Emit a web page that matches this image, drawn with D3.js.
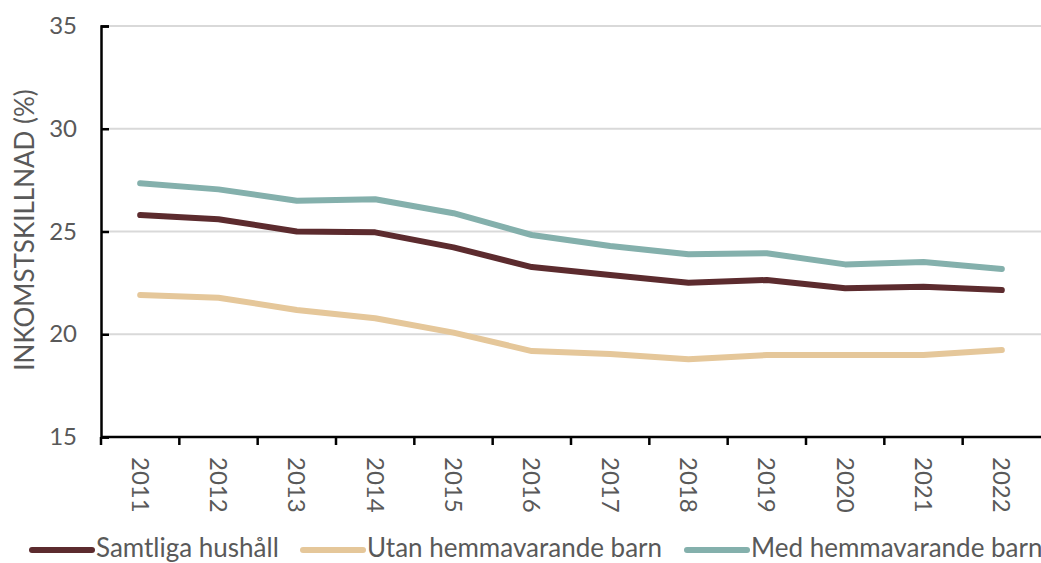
<!DOCTYPE html>
<html>
<head>
<meta charset="utf-8">
<script src="https://cdn.jsdelivr.net/npm/d3@7.9.0/dist/d3.min.js"></script>
<style>
  body { margin: 0; background: #fff; }
  svg { font-family: Lato, "Open Sans", sans-serif; }
</style>
</head>
<body>
<svg id="chart" width="1041" height="563"></svg>
<script>
// data
const years = ['2011','2012','2013','2014','2015','2016','2017','2018','2019','2020','2021','2022'];
const samtliga = [25.8, 25.6, 25.0, 24.96, 24.23, 23.27, 22.88, 22.51, 22.64, 22.24, 22.31, 22.15];
const utanBarn = [21.91, 21.78, 21.18, 20.78, 20.08, 19.18, 19.04, 18.78, 18.99, 18.99, 18.99, 19.23];
const medBarn = [27.35, 27.05, 26.5, 26.57, 25.89, 24.83, 24.29, 23.89, 23.94, 23.4, 23.52, 23.18];
const yTicks = [15, 20, 25, 30, 35];

const series = [
  { name: 'Samtliga hushåll', values: samtliga, color: '#5c2b2e' },
  { name: 'Utan hemmavarande barn', values: utanBarn, color: '#e5c79a' },
  { name: 'Med hemmavarande barn', values: medBarn, color: '#84b0ac' }
];

const svg = d3.select('#chart');
const mLeft = 101, mRight = 1041, mTop = 26, mBottom = 437;

const x = d3.scaleBand().domain(years).range([mLeft, mRight]);
const y = d3.scaleLinear().domain([15, 35]).range([mBottom, mTop]);

// gridlines
svg.append('g')
  .selectAll('line')
  .data(yTicks.filter(d => d > 15))
  .join('line')
  .attr('x1', mLeft).attr('x2', mRight)
  .attr('y1', d => y(d)).attr('y2', d => y(d))
  .attr('stroke', '#d9d9d9').attr('stroke-width', 2);

// y axis
const yAxis = svg.append('g')
  .attr('transform', `translate(${mLeft},0)`)
  .call(d3.axisRight(y).tickValues(yTicks).tickSize(8).tickFormat(d3.format('d')));
yAxis.select('.domain').attr('stroke', '#000').attr('stroke-width', 2.5);
yAxis.selectAll('.tick line').attr('stroke', '#000').attr('stroke-width', 2.5);
yAxis.selectAll('.tick text')
  .attr('x', -24).attr('text-anchor', 'end')
  .attr('fill', '#595959').attr('font-size', 24)
  .attr('font-family', 'Lato');

// x axis: ticks between bands
const xAxis = svg.append('g').attr('transform', `translate(0,${mBottom})`);
xAxis.append('line').attr('x1', mLeft).attr('x2', mRight)
  .attr('stroke', '#000').attr('stroke-width', 2.5);
xAxis.selectAll('.tk')
  .data(years)
  .join('line')
  .attr('class', 'tk')
  .attr('x1', d => x(d)).attr('x2', d => x(d))
  .attr('y1', 0).attr('y2', 8)
  .attr('stroke', '#000').attr('stroke-width', 2.5);
xAxis.selectAll('text')
  .data(years)
  .join('text')
  .attr('transform', d => `translate(${x(d) + x.bandwidth() / 2},20) rotate(90)`)
  .attr('dy', '0.35em')
  .attr('fill', '#595959').attr('font-size', 24)
  .text(d => d);

// y title
svg.append('text')
  .attr('transform', `translate(25,230) rotate(-90)`)
  .attr('text-anchor', 'middle').attr('dy', '0.35em')
  .attr('fill', '#595959').attr('font-size', 26)
  .text('INKOMSTSKILLNAD (%)');

// lines
const line = d3.line()
  .x((d, i) => x(years[i]) + x.bandwidth() / 2)
  .y(d => y(d));

svg.append('g')
  .selectAll('path')
  .data(series)
  .join('path')
  .attr('d', d => line(d.values))
  .attr('fill', 'none')
  .attr('stroke', d => d.color)
  .attr('stroke-width', 6)
  .attr('stroke-linecap', 'round')
  .attr('stroke-linejoin', 'round');

// legend
const legendX = [32, 303, 687];
const legend = svg.append('g').attr('transform', 'translate(0,550)');
series.forEach((s, i) => {
  const g = legend.append('g').attr('transform', `translate(${legendX[i]},0)`);
  g.append('line').attr('x1', 0).attr('x2', 60)
    .attr('stroke', s.color).attr('stroke-width', 6).attr('stroke-linecap', 'round');
  g.append('text').attr('x', 64).attr('y', 7)
    .attr('fill', '#595959').attr('font-size', 26)
    .text(s.name);
});
</script>
</body>
</html>
